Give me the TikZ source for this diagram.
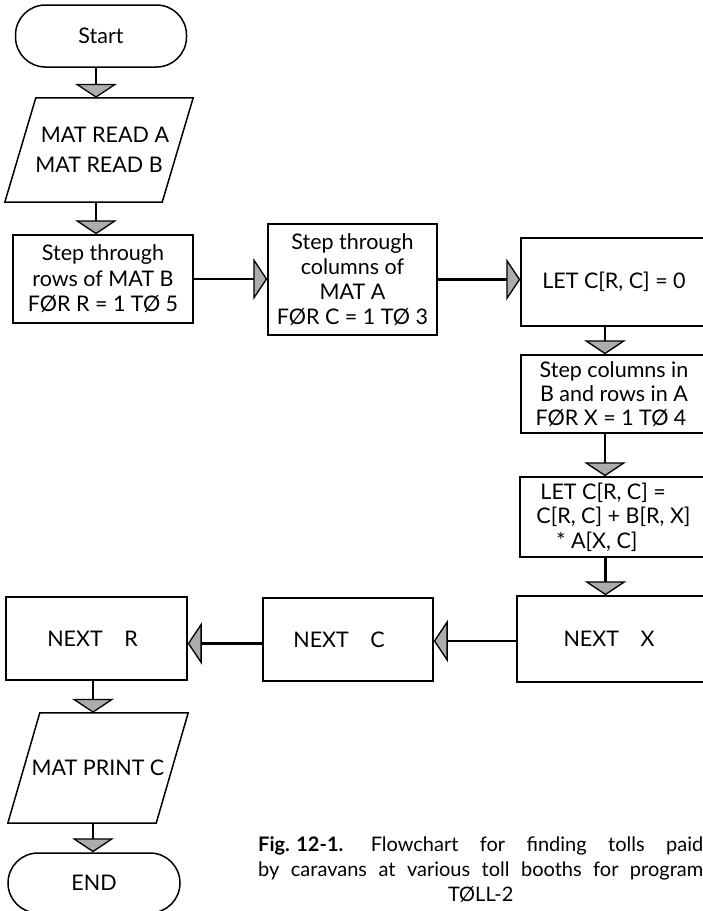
\documentclass[tikz,border=0pt]{standalone}
\usepackage{fontspec}
\setmainfont{Lato}
\usetikzlibrary{arrows.meta,calc}
\tikzset{
  lbl/.style={align=center, inner sep=0pt, font=\fontsize{21.5}{25.5}\selectfont},
  box/.style={lbl, draw, line width=1.5pt},
  term/.style={box, rounded corners=30pt},
  outline/.style={line width=1.5pt, line join=miter},
  conn/.style={line width=2.6pt, -{Triangle[width=42pt,length=14pt,fill=gray!65,line width=1.3pt]}},
}
\begin{document}
\begin{tikzpicture}[x=1pt,y=-1pt]
\useasboundingbox (0,0) rectangle (703,911);

% left column
\node[term, minimum width=171pt, minimum height=62pt] (start) at (101,36) {Start};
\node[lbl, minimum width=188pt, minimum height=104pt, font=\fontsize{21.5}{30}\selectfont] (read) at (99,150) {\hspace*{12pt}MAT READ A\\MAT READ B};
\draw[outline] ($(read.north west)+(31,0)$) -- (read.north east) -- ($(read.south east)+(-31,0)$) -- (read.south west) -- cycle;
\node[box, minimum width=180pt, minimum height=88pt] (rows) at (103,279) {Step through\\rows of MAT B\\FØR R = 1 TØ 5};

% middle
\node[box, minimum width=169pt, minimum height=111pt, font=\fontsize{21.5}{25}\selectfont] (cols) at (352.5,279.5) {Step through\\columns of\\MAT A\\FØR C = 1 TØ 3};

% right column
\node[box, minimum width=186pt, minimum height=88pt] (zero) at (614,282) {LET C[R, C] = 0};
\node[box, minimum width=186pt, minimum height=78pt, font=\fontsize{21.5}{24}\selectfont] (inner) at (614,394) {Step columns in\\B and rows in A\\FØR X = 1 TØ 4\hspace*{6pt}};
\node[box, minimum width=187pt, minimum height=80pt, align=left, font=\fontsize{21.5}{24.5}\selectfont] (sum) at (613.5,517) {\hspace*{4pt}LET C[R, C] =\\C[R, C] + B[R, X]\\\hspace*{20pt}* A[X, C]\hspace*{8pt}};
\node[box, minimum width=190pt, minimum height=86pt] (nx) at (612,639) {NEXT\quad X\hspace*{6pt}};

% bottom row
\node[box, minimum width=170pt, minimum height=83pt] (nc) at (348,639.5) {NEXT\quad C\hspace*{18pt}};
\node[box, minimum width=181pt, minimum height=83pt] (nr) at (96.5,638.5) {NEXT\quad R\hspace*{8pt}};
\node[lbl, minimum width=180pt, minimum height=110pt] (print) at (98,768) {MAT PRINT C};
\draw[outline] ($(print.north west)+(32,0)$) -- (print.north east) -- ($(print.south east)+(-32,0)$) -- (print.south west) -- cycle;
\node[term, minimum width=172pt, minimum height=60pt] (end) at (94,883) {END};

% connectors
\draw[conn] ([xshift=-3pt]read.north |- start.south) -- ([xshift=-3pt]read.north);
\draw[conn] ([xshift=-3pt]read.south) -- ([xshift=-3pt]read.south |- rows.north);
\draw[conn] (rows.east) -- (rows.east -| cols.west);
\draw[conn] (cols.east) -- (cols.east -| zero.west);
\draw[conn] ([xshift=-9pt]zero.south) -- ([xshift=-9pt]zero.south |- inner.north);
\draw[conn] ([xshift=-9pt]inner.south) -- ([xshift=-9pt]inner.south |- sum.north);
\draw[conn] ([xshift=-8pt]sum.south) -- ([xshift=-8pt]sum.south |- nx.north);
\draw[conn] ([yshift=-2pt]nx.west) -- ([yshift=-2pt]nx.west -| nc.east);
\draw[conn] ([yshift=-4pt]nc.west) -- ([yshift=-4pt]nc.west -| nr.east);
\draw[conn] ([xshift=-3.5pt]nr.south) -- ([xshift=-3.5pt]nr.south |- print.north);
\draw[conn] ([xshift=-5pt]print.south) -- ([xshift=-5pt]print.south |- end.north);

% caption
\node[anchor=north west, align=left, inner sep=0pt, font=\fontsize{20}{25}\selectfont] (cap) at (258,836)
 {\makebox[445pt][s]{\mbox{\textbf{Fig. 12-1.}}\hspace{6pt} Flowchart for finding tolls paid}\\
  \makebox[445pt][s]{by caravans at various toll booths for program}\\
  \makebox[445pt][c]{TØLL-2}};
\end{tikzpicture}
\end{document}
